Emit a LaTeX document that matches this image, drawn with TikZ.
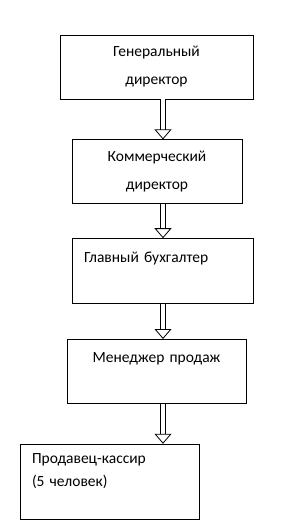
\documentclass[tikz,border=0pt]{standalone}
\usepackage{fontspec}
\setmainfont{Carlito}
\usetikzlibrary{positioning,arrows.meta}

\begin{document}
\begin{tikzpicture}[x=1pt,y=1pt,
    post/.style={draw,line width=0.8pt,inner xsep=12pt,inner ysep=0pt,
        font=\fontsize{15.5pt}{28pt}\selectfont},
    flow/.style={draw,line width=0.8pt,double,double distance=4.4pt,
        -{Triangle[open,length=10pt,width=17pt,line width=0.8pt]}}]
    \useasboundingbox (0,0) rectangle (289,-525);
    \coordinate (ax) at (163,0);

    \node[post,minimum width=193pt,minimum height=64pt,text width=169pt,align=center]
        (gd) at (156.5,-67) {Генеральный\\директор};
    \node[post,minimum width=170pt,minimum height=64pt,text width=146pt,align=center]
        (kd) [below=40pt of gd,xshift=0.5pt] {Коммерческий\\директор};
    \node[post,minimum width=181pt,minimum height=65pt,text width=157pt,align=left]
        (gb) [below=34pt of kd,xshift=5.5pt] {Главный бухгалтер\\\mbox{}};
    \node[post,minimum width=179pt,minimum height=64pt,text width=155pt,align=center]
        (md) [below=35pt of gb,xshift=-6pt] {Менеджер продаж\\\mbox{}};
    \node[post,minimum width=179pt,minimum height=75pt,text width=155pt,align=left,
        font=\fontsize{15.5pt}{23pt}\selectfont]
        (pk) [below=40pt of md,xshift=-47pt] {Продавец-кассир\\(5 человек)\\\mbox{}};

    \draw[flow] (gd.south -| ax) -- (kd.north -| ax);
    \draw[flow] (kd.south -| ax) -- (gb.north -| ax);
    \draw[flow] (gb.south -| ax) -- (md.north -| ax);
    \draw[flow] (md.south -| ax) -- (pk.north -| ax);
\end{tikzpicture}
\end{document}
